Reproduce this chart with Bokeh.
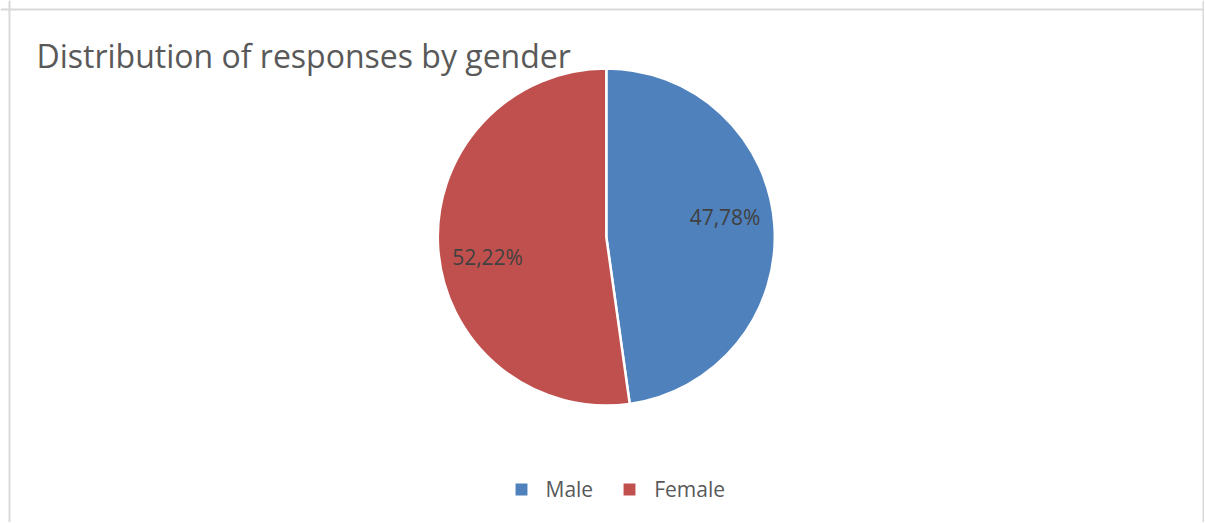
import math
from bokeh.plotting import figure
from bokeh.models import ColumnDataSource, Range1d, Span, Legend, LegendItem
from bokeh.core.properties import value
from bokeh.embed import file_html
from bokeh.resources import INLINE

# ---- data ----
categories = ["Male", "Female"]
shares = [47.78, 52.22]
labels = ["47,78%", "52,22%"]
colors = ["#4F81BD", "#C0504D"]
title_text = "Distribution of responses by gender"

# ---- layout (pixels; data units map 1:1 to canvas pixels) ----
W, H = 1204, 522
CX, CY, R = 605.8, H - 236.5, 168.5
FONT = "Open Sans"

total = sum(shares)
starts, ends, lx, ly = [], [], [], []
cum = 0.0
for s in shares:
    a0 = math.pi / 2 - 2 * math.pi * cum / total
    cum += s
    a1 = math.pi / 2 - 2 * math.pi * cum / total
    starts.append(a0)
    ends.append(a1)
    mid = (a0 + a1) / 2 + 0.1
    lx.append(CX + 0.715 * R * math.cos(mid))
    ly.append(CY + 0.715 * R * math.sin(mid))

src = ColumnDataSource(dict(cat=categories, share=shares, label=labels,
                            color=colors, start=starts, end=ends, lx=lx, ly=ly))

p = figure(width=W, height=H, output_backend="svg", toolbar_location=None,
           x_range=Range1d(0, W), y_range=Range1d(0, H),
           x_axis_location=None, y_axis_location=None,
           min_border=0, outline_line_color=None, background_fill_color="white",
           border_fill_color="white")
p.grid.visible = False

wr = p.wedge(x=CX, y=CY, radius=R, start_angle="start", end_angle="end",
             direction="clock", fill_color="color", line_color="white",
             line_width=2.5, source=src)

p.text(x="lx", y="ly", text="label", source=src, text_font=value(FONT),
       text_font_size="21px", text_color="#404040", text_align="center",
       text_baseline="middle")

p.text(x=[36], y=[H - 54.5], text=[title_text], text_font=value(FONT),
       text_font_size="32px", text_color="#595959", text_align="left",
       text_baseline="middle")

# border (left, top, right)
for loc, dim in [(9, "height"), (1203, "height"), (H - 9, "width")]:
    p.add_layout(Span(location=loc, dimension=dim, line_color="#d9d9d9", line_width=2))

items = [LegendItem(label=c, renderers=[wr], index=i) for i, c in enumerate(categories)]
legend = Legend(items=items, orientation="horizontal", location=(511.5, 19),
                glyph_width=18, glyph_height=18, label_standoff=16, spacing=27,
                padding=0, margin=0, border_line_color=None,
                background_fill_alpha=0, label_text_font=FONT,
                label_text_font_size="21px", label_text_color="#595959")
p.add_layout(legend)

open("out.html", "w").write(file_html(p, INLINE))
